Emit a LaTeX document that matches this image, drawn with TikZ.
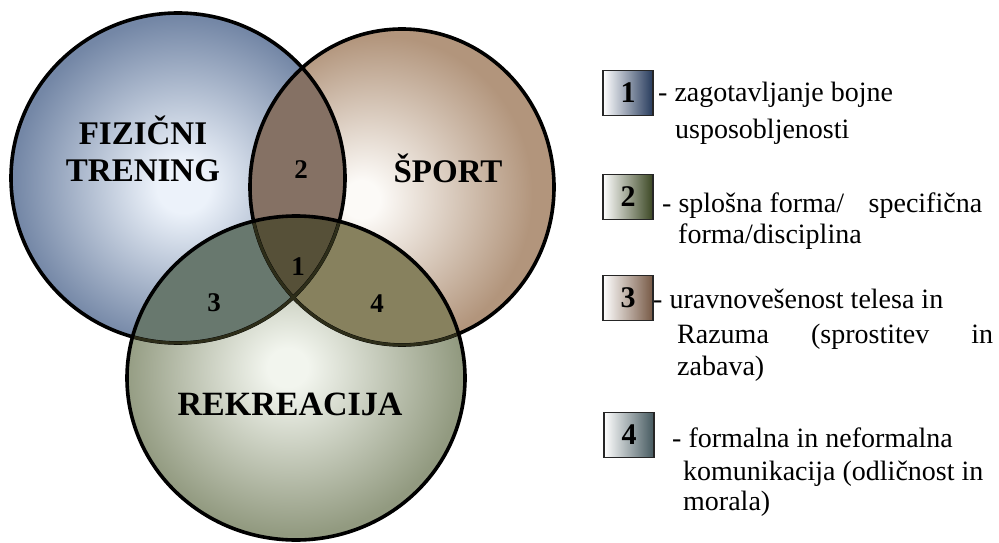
\documentclass[tikz,border=0pt]{standalone}
\usepackage{fontspec}
\setmainfont{Liberation Serif}
\usepackage{tikz}

\definecolor{fizcore}{RGB}{236,242,250}
\definecolor{fizedge}{RGB}{116,135,166}
\definecolor{spocore}{RGB}{252,250,247}
\definecolor{spoedge}{RGB}{178,149,124}
\definecolor{rekcore}{RGB}{242,245,238}
\definecolor{rekedge}{RGB}{146,154,128}
\definecolor{cutab}{RGB}{133,113,100}
\definecolor{cutac}{RGB}{104,120,110}
\definecolor{cutbc}{RGB}{135,129,94}
\definecolor{cutabc}{RGB}{86,80,56}
\definecolor{innerarc}{RGB}{45,45,25}
\definecolor{keyone}{RGB}{38,58,92}
\definecolor{keytwo}{RGB}{58,70,34}
\definecolor{keythree}{RGB}{118,88,68}
\definecolor{keyfour}{RGB}{68,88,94}

\pgfdeclareradialshading{fizball}{\pgfpoint{0.9bp}{-1.4bp}}{color(0bp)=(fizcore); color(4bp)=(fizcore); color(25bp)=(fizedge); color(50bp)=(fizedge)}
\pgfdeclareradialshading{spoball}{\pgfpoint{-7.1bp}{-2.1bp}}{color(0bp)=(spocore); color(3bp)=(spocore); color(25bp)=(spoedge); color(50bp)=(spoedge)}
\pgfdeclareradialshading{rekball}{\pgfpoint{-1.3bp}{1.7bp}}{color(0bp)=(rekcore); color(3bp)=(rekcore); color(25bp)=(rekedge); color(50bp)=(rekedge)}

\tikzset{
  vennline/.style={draw=black,line width=3.6pt},
  bigtitle/.style={font=\fontsize{33}{37}\selectfont\bfseries,align=center,inner sep=0pt},
  overlapnum/.style={font=\fontsize{27}{30}\selectfont\bfseries,inner sep=0pt},
  keybox/.style={draw=black!85,line width=1.8pt,minimum width=50pt,minimum height=45pt,
    inner sep=0pt,font=\fontsize{30}{32}\selectfont\bfseries,left color=white},
  keytext/.style={anchor=base west,inner sep=0pt,font=\fontsize{28}{34}\selectfont}
}

\begin{document}
\begin{tikzpicture}[x=1pt,y=-1pt]
\useasboundingbox[fill=white] (0,0) rectangle (999,543);

\shade[shading=fizball] (178,178) ellipse [x radius=167,y radius=165];
\shade[shading=spoball] (402,187) ellipse [x radius=152,y radius=158];
\shade[shading=rekball] (296,378) ellipse [x radius=169,y radius=162];

\begin{scope}
  \clip (402,187) ellipse [x radius=152,y radius=158];
  \fill[cutbc] (296,378) ellipse [x radius=169,y radius=162];
\end{scope}
\begin{scope}
  \clip (178,178) ellipse [x radius=167,y radius=165];
  \fill[cutab] (402,187) ellipse [x radius=152,y radius=158];
  \fill[cutac] (296,378) ellipse [x radius=169,y radius=162];
  \clip (402,187) ellipse [x radius=152,y radius=158];
  \fill[cutabc] (296,378) ellipse [x radius=169,y radius=162];
\end{scope}

\draw[vennline] (178,178) ellipse [x radius=167,y radius=165];
\draw[vennline] (402,187) ellipse [x radius=152,y radius=158];
\begin{scope}
  \clip (296,378) ellipse [x radius=169,y radius=162];
  \draw[vennline,draw=innerarc,line width=3pt] (178,178) ellipse [x radius=167,y radius=165];
  \draw[vennline,draw=innerarc,line width=3pt] (402,187) ellipse [x radius=152,y radius=158];
\end{scope}
\draw[vennline] (296,378) ellipse [x radius=169,y radius=162];

\node[bigtitle] (fiz) at (143,149) {FIZIČNI\\TRENING};
\node[bigtitle] (spo) at (448,168) {ŠPORT};
\node[bigtitle,font=\fontsize{34}{37}\selectfont\bfseries] (rek) at (290,404) {REKREACIJA};
\node[overlapnum] (n2) at (301,170) {2};
\node[overlapnum] (n1) at (298,267) {1};
\node[overlapnum] (n3) at (214,303) {3};
\node[overlapnum] (n4) at (377,304) {4};

\node[keybox,right color=keyone] (b1) at (628,93) {1};
\node[keybox,right color=keytwo] (b2) at (628,197) {2};
\node[keybox,right color=keythree] (b3) at (628,298) {3};
\node[keybox,right color=keyfour] (b4) at (629,435) {4};

\node[keytext] (k1a) at (658,102) {- zagotavljanje bojne};
\node[keytext] (k1b) at (675,138) {usposobljenosti};
\node[keytext] (k2a) at (662,212) {\makebox[320pt][s]{- splošna forma/\hfill specifična}};
\node[keytext] (k2b) at (678,243) {forma/disciplina};
\node[keytext] (k3a) at (653,308) {- uravnovešenost telesa in};
\node[keytext] (k3b) at (677,343) {\makebox[316pt][s]{Razuma (sprostitev in}};
\node[keytext] (k3c) at (677,375) {zabava)};
\node[keytext] (k4a) at (672,447) {- formalna in neformalna};
\node[keytext] (k4b) at (683,480) {komunikacija (odličnost in};
\node[keytext] (k4c) at (683,510) {morala)};
\end{tikzpicture}
\end{document}
